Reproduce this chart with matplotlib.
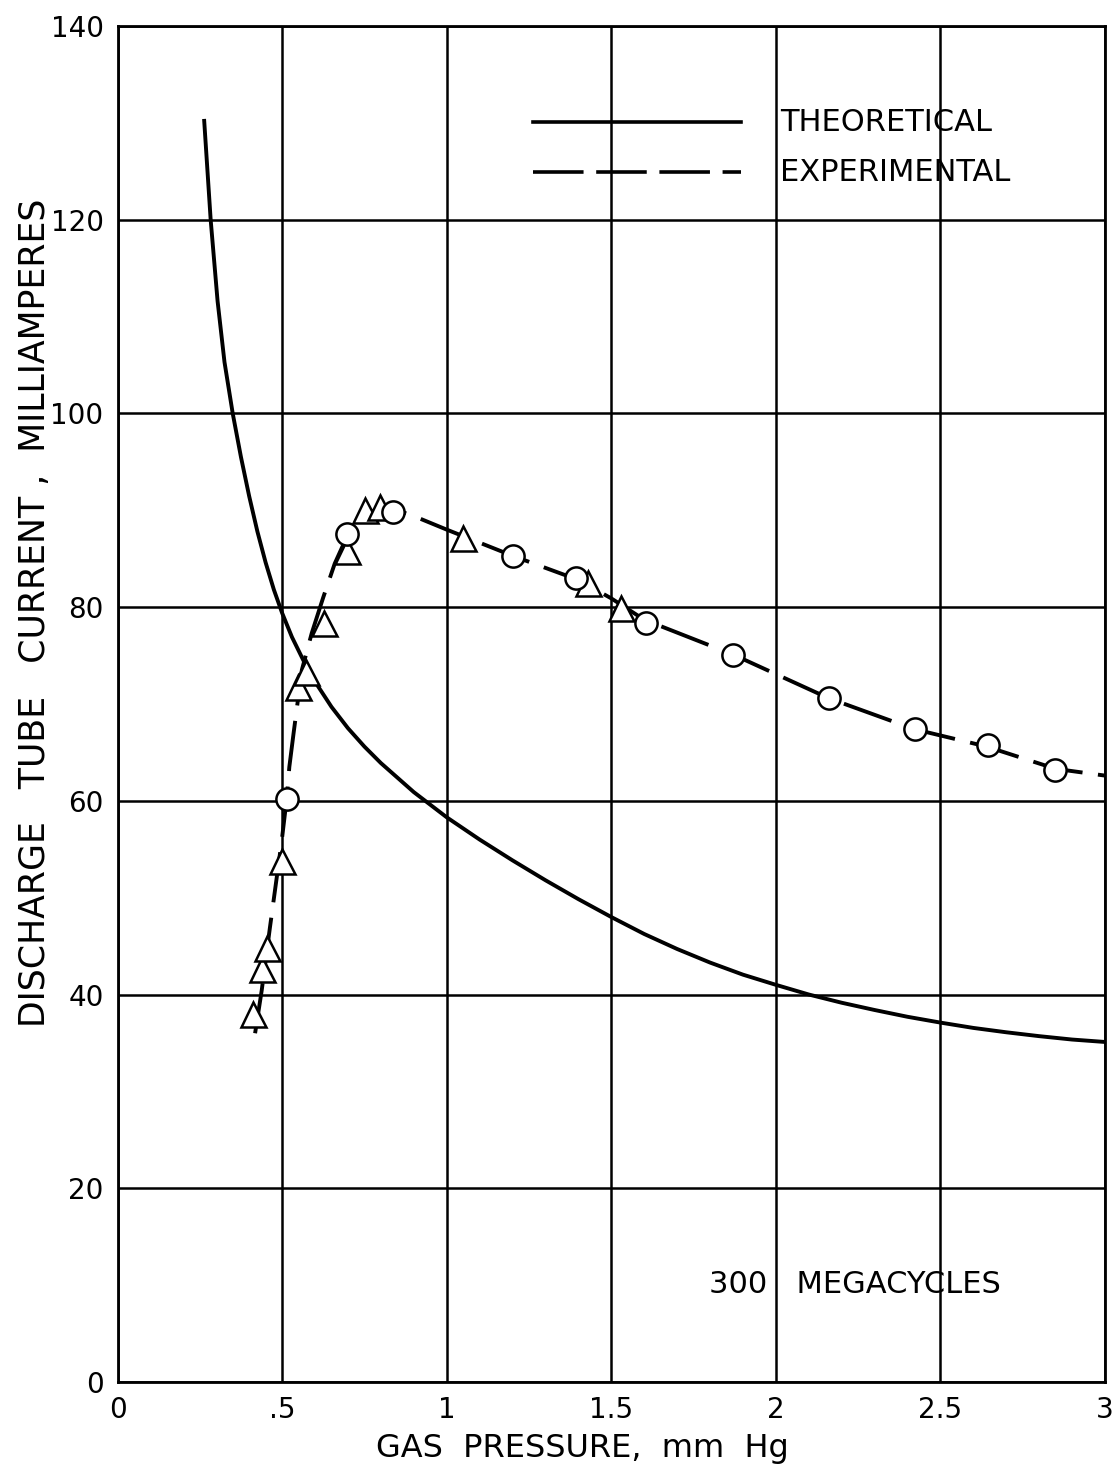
import matplotlib
matplotlib.use("Agg")
import matplotlib.pyplot as plt

# courbe theorique
theo_x = [0.263, 0.283, 0.304, 0.325, 0.350, 0.375, 0.40, 0.425, 0.45, 0.475,
          0.50, 0.53, 0.569, 0.60, 0.65, 0.70, 0.75, 0.80, 0.85, 0.90, 0.95, 1.0,
          1.1, 1.2, 1.3, 1.4, 1.5, 1.6, 1.7, 1.8, 1.9, 2.0, 2.1, 2.2, 2.3, 2.4,
          2.5, 2.6, 2.7, 2.8, 2.9, 3.0]
theo_y = [130.4, 120.0, 111.6, 105.3, 100.0, 95.5, 91.45, 87.8, 84.6, 81.8,
          79.4, 76.9, 74.2, 72.3, 69.7, 67.5, 65.6, 63.9, 62.4, 60.9, 59.6, 58.3,
          56.0, 53.85, 51.8, 49.85, 48.0, 46.25, 44.7, 43.3, 42.05, 41.0, 40.0, 39.15, 38.4, 37.7,
          37.1, 36.55, 36.1, 35.7, 35.35, 35.1]

# courbe experimentale (trait tirete)
exp_x = [0.418, 0.438, 0.463, 0.499, 0.514, 0.522, 0.535, 0.56, 0.59, 0.625, 0.66,
         0.70, 0.75, 0.80, 0.85, 0.90, 1.0, 1.2, 1.4, 1.5, 1.6, 1.87, 2.16, 2.42,
         2.64, 2.85, 3.0]
exp_y = [36.0, 40.4, 46.9, 55.9, 60.2, 63.5, 67.0, 73.5, 77.3, 81.0, 84.5,
         87.5, 89.5, 90.3, 90.0, 89.4, 88.0, 85.3, 82.8, 80.9, 78.7, 75.1, 70.6, 67.4,
         65.6, 63.3, 62.6]

# points mesures : triangles
tri_x = [0.412, 0.438, 0.453, 0.499, 0.549, 0.572, 0.627, 0.696, 0.752, 0.797,
         1.050, 1.430, 1.531]
tri_y = [38.0, 42.6, 44.8, 53.8, 71.8, 73.3, 78.4, 85.8, 90.0, 90.3,
         87.1, 82.5, 79.9]

# points mesures : cercles
circ_x = [0.514, 0.696, 0.836, 1.202, 1.394, 1.607, 1.870, 2.162, 2.422, 2.644, 2.847]
circ_y = [60.2, 87.5, 89.8, 85.3, 83.0, 78.4, 75.1, 70.6, 67.4, 65.8, 63.2]

xticks = [0, 0.5, 1, 1.5, 2, 2.5, 3]
xlabels = ["0", ".5", "1", "1.5", "2", "2.5", "3"]
yticks = [0, 20, 40, 60, 80, 100, 120, 140]
ylabels = ["0", "20", "40", "60", "80", "100", "120", "140"]

plt.rcParams['font.family'] = ['DejaVu Sans']

fig = plt.figure(figsize=(11.18, 14.75), dpi=100)
ax = fig.add_axes([0.1051, 0.0631, 0.8833, 0.9193])

# grille
ax.set_xlim(0, 3)
ax.set_ylim(0, 140)
ax.set_xticks(xticks)
ax.set_xticklabels(xlabels, fontsize=20)
ax.set_yticks(yticks)
ax.set_yticklabels(ylabels, fontsize=20)
ax.tick_params(length=0, pad=10)
ax.grid(True, color='black', linewidth=1.8)
ax.set_axisbelow(True)
for s in ax.spines.values():
    s.set_linewidth(2.0)

# courbes
ax.plot(theo_x, theo_y, color='black', linewidth=2.8, solid_capstyle='butt',
        solid_joinstyle='round')
ax.plot(exp_x, exp_y, color='black', linewidth=2.8, linestyle=(0, (13, 4)))
ax.plot(tri_x, tri_y, linestyle='none', marker='^', markersize=18,
        markerfacecolor='white', markeredgecolor='black', markeredgewidth=1.8)
ax.plot(circ_x, circ_y, linestyle='none', marker='o', markersize=16,
        markerfacecolor='white', markeredgecolor='black', markeredgewidth=1.8)

# legende faite a la main
ax.plot([0.421, 0.631], [0.929, 0.929], color='black', linewidth=2.6,
        transform=ax.transAxes)
ax.plot([0.421, 0.631], [0.892, 0.892], color='black', linewidth=2.6,
        linestyle=(0, (14, 3.5)), transform=ax.transAxes)
ax.text(0.671, 0.929, "THEORETICAL", fontsize=22, va='center', ha='left',
        transform=ax.transAxes)
ax.text(0.671, 0.892, "EXPERIMENTAL", fontsize=22, va='center', ha='left',
        transform=ax.transAxes)
ax.text(0.747, 0.0715, "300   MEGACYCLES", fontsize=22, va='center', ha='center',
        transform=ax.transAxes)

# titres des axes
fig.text(582 / 1118, 1 - 1449 / 1475, "GAS  PRESSURE,  mm  Hg", fontsize=23,
         ha='center', va='center')
fig.text(35 / 1118, 1 - 613 / 1475, "DISCHARGE   TUBE   CURRENT ,  MILLIAMPERES",
         fontsize=25, rotation=90, ha='center', va='center')

fig.savefig("out.png", dpi=100)
